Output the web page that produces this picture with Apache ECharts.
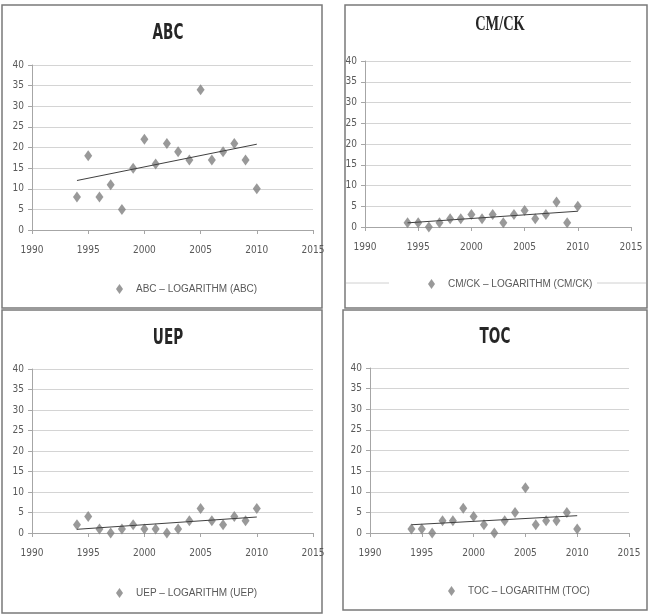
<!DOCTYPE html>
<html>
<head>
<meta charset="utf-8">
<script src="https://cdn.jsdelivr.net/npm/echarts@6/dist/echarts.min.js"></script>
<style>
  html,body{margin:0;padding:0;background:#fff;}
  #chart{width:650px;height:615px;}
</style>
</head>
<body>
<div id="chart"></div>
<script>
/* data */
const years = [1994,1995,1996,1997,1998,1999,2000,2001,2002,2003,2004,2005,2006,2007,2008,2009,2010];
const abcValues  = [8,18,8,11,5,15,22,16,21,19,17,34,17,19,21,17,10];
const cmckValues = [1,1,0,1,2,2,3,2,3,1,3,4,2,3,6,1,5];
const uepValues  = [2,4,1,0,1,2,1,1,0,1,3,6,3,2,4,3,6];
const tocValues  = [1,1,0,3,3,6,4,2,0,3,5,11,2,3,3,5,1];
// trend line ends (first year, last year)
const abcTrend  = [12, 20.8];
const cmckTrend = [1, 3.8];
const uepTrend  = [0.9, 3.9];
const tocTrend  = [2, 4.2];
const xTicks = [1990, 2015];
const yTicks = [0, 40];

const names = ["ABC","CM/CK","UEP","TOC"];

const chart = echarts.init(document.getElementById("chart"));

const labelFont = "'Liberation Sans Narrow','DejaVu Sans Condensed',sans-serif";
const titleFont = "'Liberation Sans Narrow','DejaVu Sans Condensed',sans-serif";

/* panel layout */
const panels = [
  {vals:abcValues, trend:abcTrend, grid:{left:32,top:65,width:281,height:165},
   box:[2,5,320,303], title:{x:168,y:34,font:titleFont,size:21,weight:"bold",sx:0.72},
   legend:{x:111,y:279}},
  {vals:cmckValues, trend:cmckTrend, grid:{left:365,top:61,width:266,height:166},
   box:[345,5,302,303], title:{x:500,y:25,font:"'Liberation Serif',serif",size:20,weight:"bold",sx:0.72},
   legend:{x:423,y:274}},
  {vals:uepValues, trend:uepTrend, grid:{left:32,top:369,width:281,height:164},
   box:[2,310,320,303], title:{x:168,y:339,font:titleFont,size:21,weight:"bold",sx:0.72},
   legend:{x:111,y:583}},
  {vals:tocValues, trend:tocTrend, grid:{left:370,top:368,width:259,height:165},
   box:[343,310,304,300], title:{x:495,y:338,font:titleFont,size:21,weight:"bold",sx:0.72},
   legend:{x:443,y:581}}
];

const grid=[],xAxis=[],yAxis=[],series=[],legend=[],graphic=[];

panels.forEach((p,i)=>{
  const name = names[i];
  const legendName = name + " \u2013 LOGARITHM (" + name + ")";

  grid.push(p.grid);

  xAxis.push({
    gridIndex:i, type:"value", min:xTicks[0], max:xTicks[1], interval:5,
    axisLine:{lineStyle:{color:"#a6a6a6"}},
    axisTick:{show:true,length:4,lineStyle:{color:"#a6a6a6"}},
    axisLabel:{color:"#595959",fontFamily:labelFont,fontSize:10,margin:15,formatter:v=>String(v)},
    splitLine:{show:false}
  });
  yAxis.push({
    gridIndex:i, type:"value", min:yTicks[0], max:yTicks[1], interval:5,
    axisLine:{show:true,lineStyle:{color:"#a6a6a6"}},
    axisTick:{show:true,length:4,lineStyle:{color:"#a6a6a6"}},
    axisLabel:{color:"#595959",fontFamily:labelFont,fontSize:10,margin:8},
    splitLine:{lineStyle:{color:"#d4d4d4"}}
  });

  series.push({
    name:legendName, type:"scatter", xAxisIndex:i, yAxisIndex:i,
    symbol:"diamond", symbolSize:[8,11],
    itemStyle:{color:"#7f7f7f"},
    data:years.map((y,k)=>[y,p.vals[k]])
  });
  series.push({
    name:"Logarithm ("+name+")", type:"line", xAxisIndex:i, yAxisIndex:i,
    symbol:"none", silent:true,
    lineStyle:{color:"#404040",width:1},
    data:[[years[0],p.trend[0]],[years[years.length-1],p.trend[1]]]
  });

  legend.push({
    data:[legendName], left:p.legend.x, top:p.legend.y,
    icon:"diamond", itemWidth:7, itemHeight:10,
    itemStyle:{color:"#7f7f7f"},
    textStyle:{color:"#595959",fontFamily:"'Liberation Sans',Arial,sans-serif",fontSize:10,padding:[0,0,0,8]},
    selectedMode:false
  });

  graphic.push({
    type:"rect", silent:true,
    shape:{x:p.box[0],y:p.box[1],width:p.box[2],height:p.box[3]},
    style:{fill:"none",stroke:"#7a7a7a",lineWidth:1.5}
  });
  // condensed title, like the narrow office font of the original
  graphic.push({
    type:"text", silent:true, x:p.title.x, y:p.title.y, scaleX:p.title.sx,
    style:{text:name,fill:"#262626",font:p.title.weight+" "+p.title.size+"px "+p.title.font,
           align:"center",verticalAlign:"middle"}
  });
});

// faint rules either side of the CM/CK legend
graphic.push({type:"line",silent:true,shape:{x1:346,y1:283,x2:389,y2:283},style:{stroke:"#d0d0d0",lineWidth:1}});
graphic.push({type:"line",silent:true,shape:{x1:597,y1:283,x2:646,y2:283},style:{stroke:"#d0d0d0",lineWidth:1}});

chart.setOption({
  animation:false,
  backgroundColor:"#fff",
  grid, xAxis, yAxis, series, legend, graphic
});
</script>
</body>
</html>
